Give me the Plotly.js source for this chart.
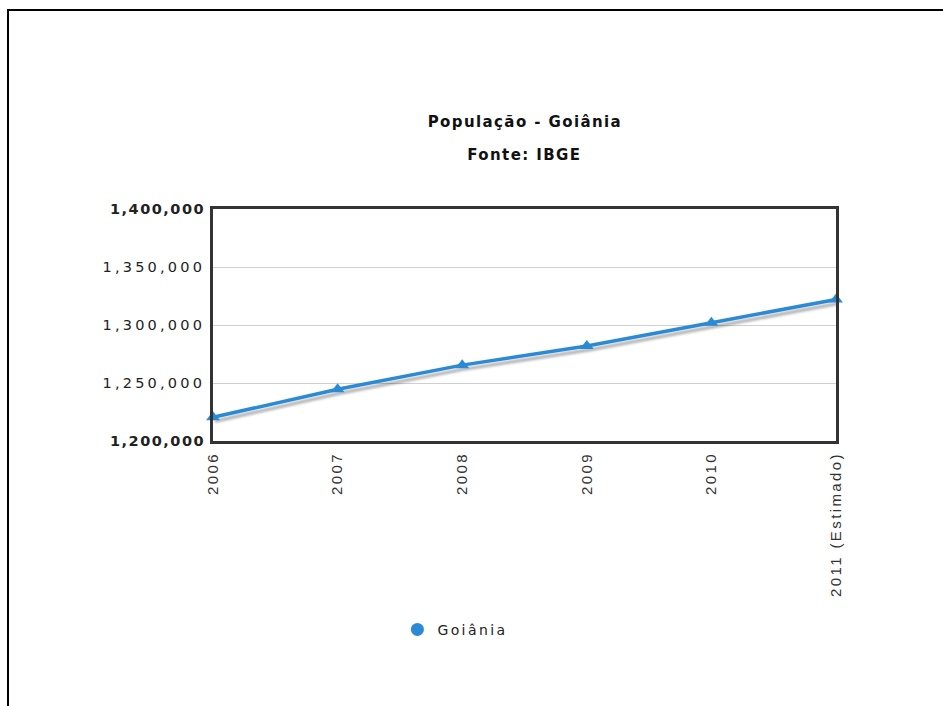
<!DOCTYPE html>
<html>
<head>
<meta charset="utf-8">
<script src="https://cdn.plot.ly/plotly-3.0.1.min.js"></script>
<style>
  html, body { margin: 0; padding: 0; background: #fff; overflow: hidden; }
  #wrap { position: relative; width: 943px; height: 706px; overflow: hidden; }
  #chart { position: absolute; left: 0; top: 0; width: 943px; height: 706px; }
  #frame {
    position: absolute; left: 7px; top: 9px; width: 1000px; height: 800px;
    border-left: 2px solid #000; border-top: 2px solid #000;
    pointer-events: none;
  }
  /* soft shadow under the series line */
  #chart .scatterlayer path.js-line { filter: drop-shadow(2px 4px 1px rgba(0,0,0,0.28)); }
  #chart .ytick text { letter-spacing: 3.2px; }
  #chart .ytick text tspan { letter-spacing: 1.5px; }
  #chart .xtick text { letter-spacing: 2.4px; }
  #chart .annotation-text { letter-spacing: 1.4px; }
  #chart .legendtext { letter-spacing: 2.4px; }
</style>
</head>
<body>
<div id="wrap">
  <div id="chart"></div>
  <div id="frame"></div>
</div>
<script>
// População de Goiânia por ano (IBGE)
const anos = ['2006', '2007', '2008', '2009', '2010', '2011 (Estimado)'];
const populacao = [1220412, 1244645, 1265394, 1281975, 1302001, 1322000];
const serieNome = 'Goiânia';
const tituloTexto = 'População - Goiânia';
const subtituloTexto = 'Fonte: IBGE';
const yTickVals = [1200000, 1250000, 1300000, 1350000, 1400000];
const yTickText = ['<b>1,200,000</b>', '1,250,000', '1,300,000', '1,350,000', '<b>1,400,000</b>'];

const azul = '#2b8ad6';

const traces = [
  {
    type: 'scatter',
    mode: 'lines+markers',
    x: anos,
    y: populacao,
    name: serieNome,
    showlegend: false,
    cliponaxis: false,
    line: { color: azul, width: 3.5 },
    marker: { symbol: 'triangle-up', size: 12, color: azul }
  },
  {
    // entrada da legenda (círculo)
    type: 'scatter',
    mode: 'markers',
    x: [null],
    y: [null],
    name: serieNome,
    showlegend: true,
    marker: { symbol: 'circle', size: 13, color: azul }
  }
];

const layout = {
  width: 943,
  height: 706,
  margin: { l: 213, r: 107, t: 209, b: 265 },
  paper_bgcolor: '#fff',
  plot_bgcolor: '#fff',
  font: { family: 'DejaVu Sans, Verdana, sans-serif', color: '#222' },
  showlegend: true,
  legend: {
    orientation: 'h',
    entrywidth: 140,
    x: 0.296, xanchor: 'left',
    y: -0.745, yanchor: 'top',
    bgcolor: 'rgba(0,0,0,0)',
    font: { family: 'DejaVu Sans, sans-serif', size: 14, color: '#222' }
  },
  xaxis: {
    type: 'category',
    range: [0, 5],
    showgrid: false,
    zeroline: false,
    showline: true,
    mirror: true,
    linecolor: '#333',
    linewidth: 3,
    ticks: '',
    tickangle: -90,
    ticklabelstandoff: 2,
    tickfont: { family: 'Liberation Sans, Arial, sans-serif', size: 15, color: '#333' },
    fixedrange: true
  },
  yaxis: {
    range: [1200000, 1400000],
    tickmode: 'array',
    tickvals: yTickVals,
    ticktext: yTickText,
    showgrid: true,
    gridcolor: '#cfcfcf',
    gridwidth: 1,
    zeroline: false,
    showline: true,
    mirror: true,
    linecolor: '#333',
    linewidth: 3,
    ticks: '',
    ticklabelstandoff: 2,
    tickfont: { family: 'DejaVu Sans, Verdana, sans-serif', size: 14.5, color: '#222' },
    fixedrange: true
  },
  annotations: [
    {
      text: '<b>' + tituloTexto + '</b>',
      xref: 'paper', yref: 'paper',
      x: 0.5, y: 1.375, xanchor: 'center', yanchor: 'middle',
      showarrow: false,
      font: { family: 'DejaVu Sans, Verdana, sans-serif', size: 15, color: '#111' }
    },
    {
      text: '<b>' + subtituloTexto + '</b>',
      xref: 'paper', yref: 'paper',
      x: 0.5, y: 1.233, xanchor: 'center', yanchor: 'middle',
      showarrow: false,
      font: { family: 'DejaVu Sans, Verdana, sans-serif', size: 15, color: '#111' }
    }
  ]
};

Plotly.newPlot('chart', traces, layout, { displayModeBar: false, staticPlot: true });
</script>
</body>
</html>
